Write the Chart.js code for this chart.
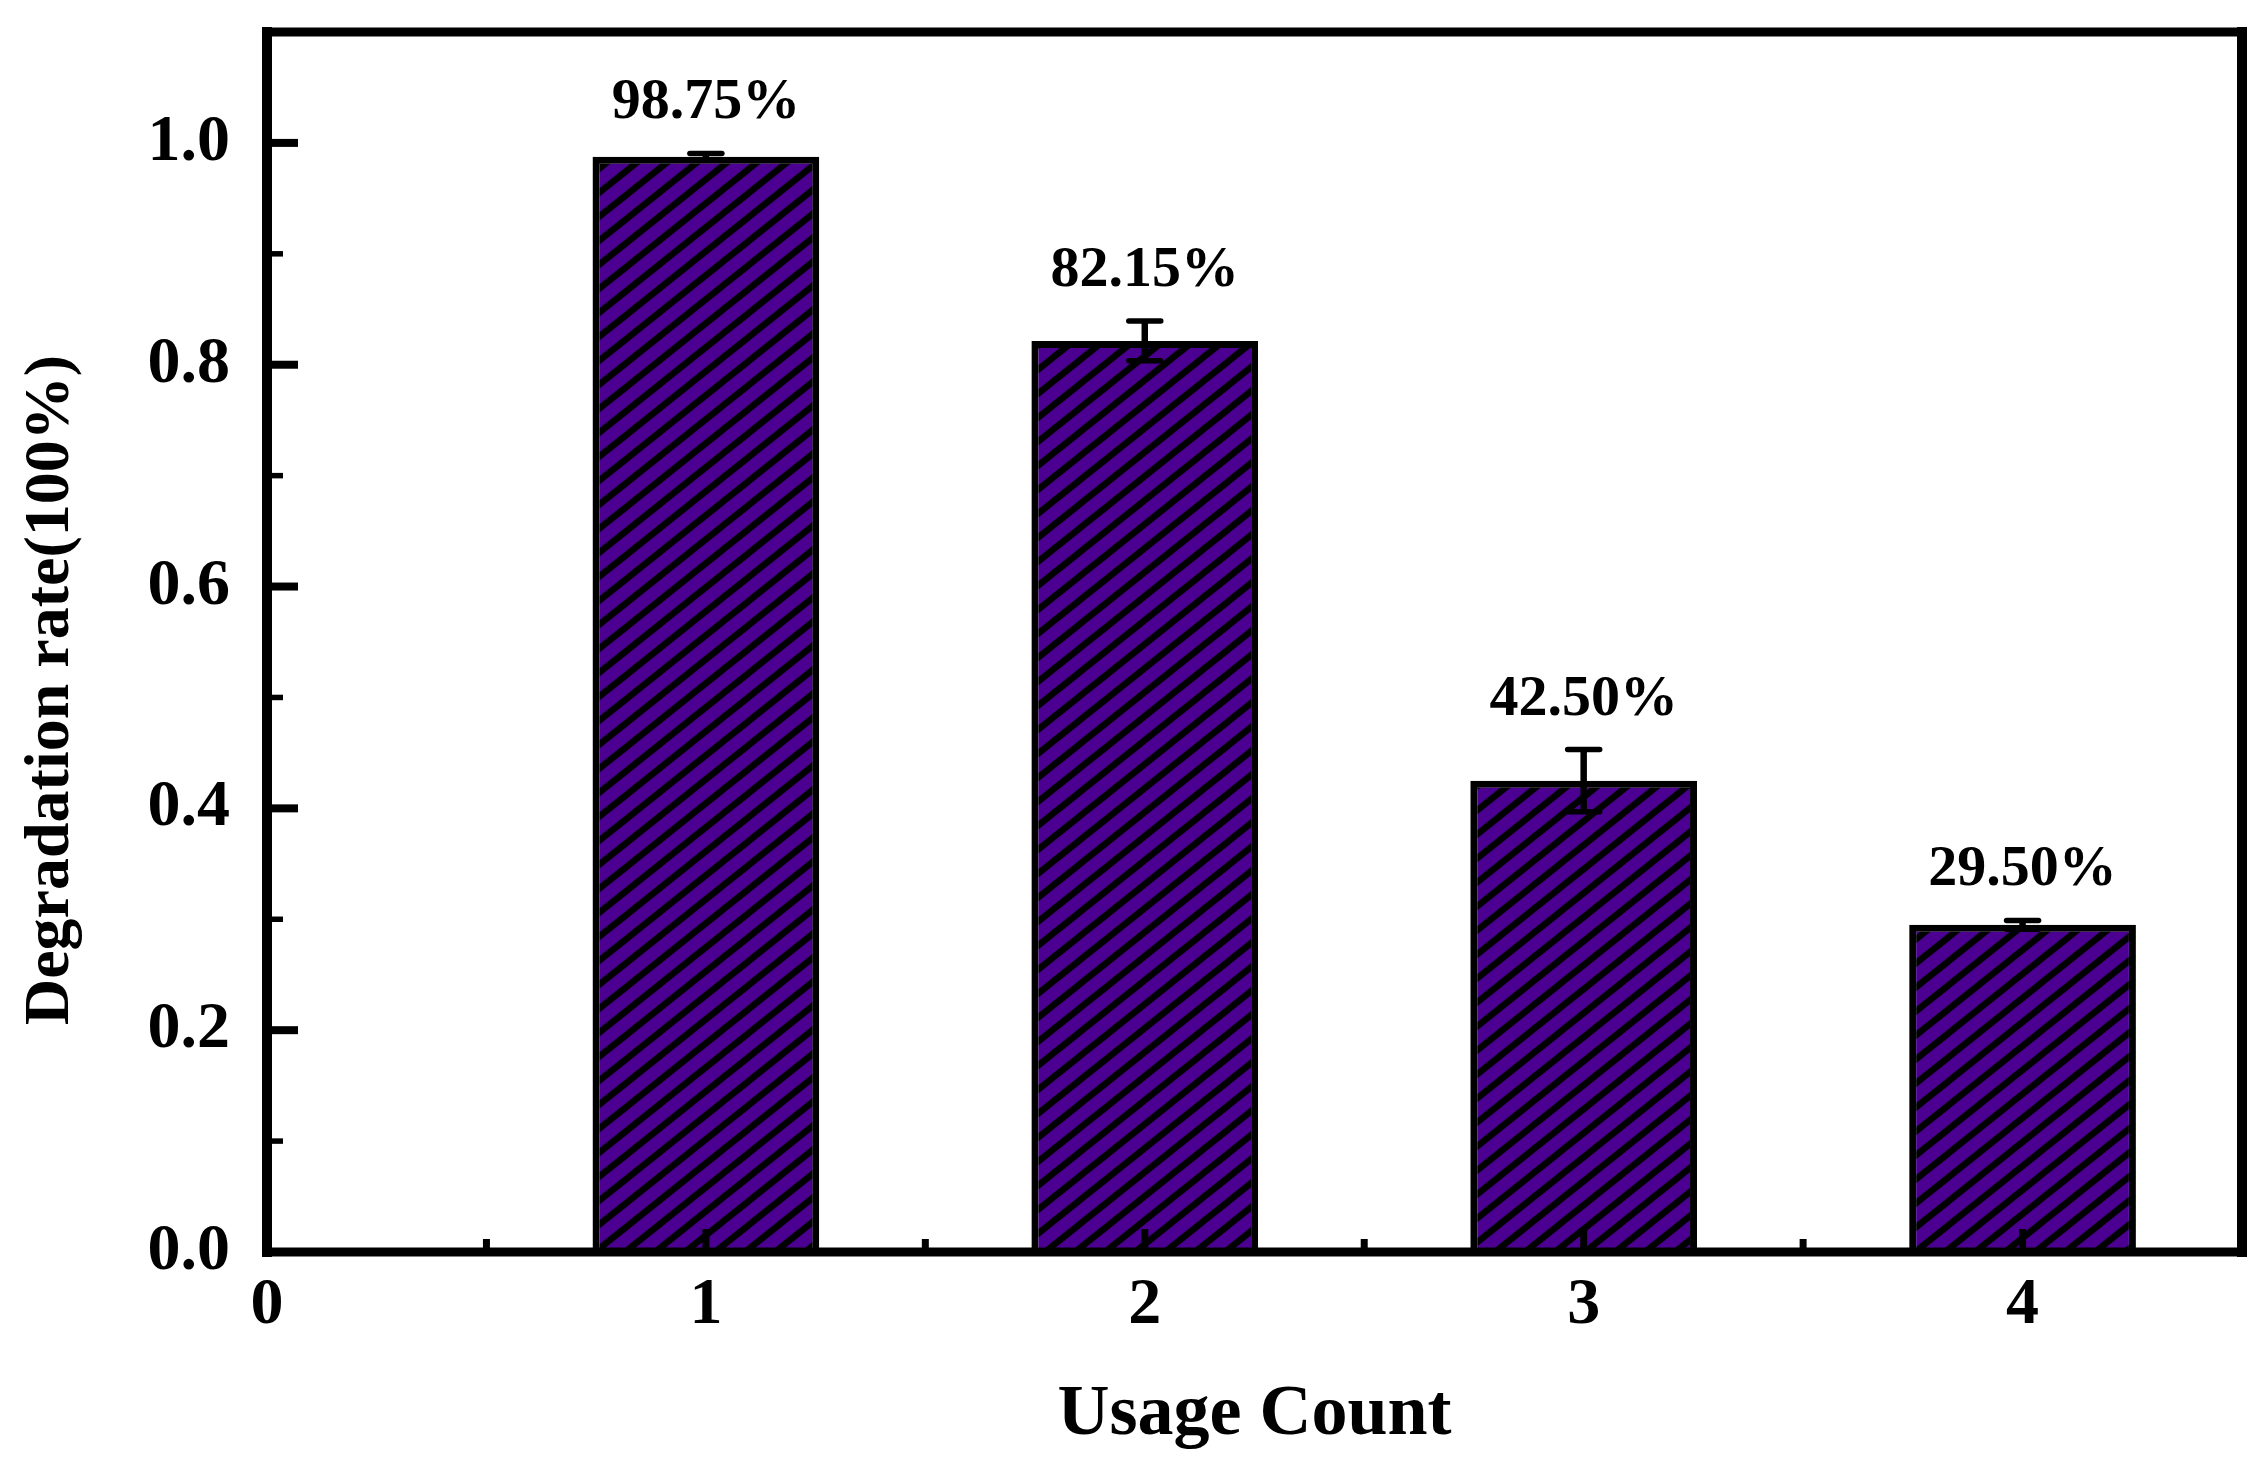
<!DOCTYPE html>
<html>
<head>
<meta charset="utf-8">
<script src="https://cdn.jsdelivr.net/npm/chart.js@4.4.1/dist/chart.umd.min.js"></script>
<style>
html,body{margin:0;padding:0;background:#ffffff;}
#wrap{width:2267px;height:1468px;}
</style>
</head>
<body>
<div id="wrap"><canvas id="c" width="2267" height="1468"></canvas></div>
<script>
// ---- data ----
const usageCounts = [1, 2, 3, 4];
const degradationRates = [0.9875, 0.8215, 0.4250, 0.2950];
const errorValues = [0.003, 0.018, 0.028, 0.004];
const xTickValues = [0, 1, 2, 3, 4];
const xMinorTickValues = [0.5, 1.5, 2.5, 3.5];
const yTickValues = [0, 0.2, 0.4, 0.6, 0.8, 1.0];
const yMinorTickValues = [0.1, 0.3, 0.5, 0.7, 0.9];
const xTitle = 'Usage Count';
const yTitle = 'Degradation rate(100%)';

const FONT = '"Liberation Serif", "Times New Roman", serif';
const PURPLE = '#4b0091';

function makeStripes() {
  const W = 30, H = 24;
  const c = document.createElement('canvas');
  c.width = W; c.height = H;
  const g = c.getContext('2d');
  g.fillStyle = PURPLE;
  g.fillRect(0, 0, W, H);
  g.strokeStyle = '#000';
  g.lineWidth = 6.5;
  for (let k = 0; k <= 2; k++) {
    g.beginPath();
    g.moveTo((k + 1) * W, -H);
    g.lineTo((k - 2) * W, 2 * H);
    g.stroke();
  }
  return g.createPattern(c, 'repeat');
}

const decorPlugin = {
  id: 'decor',
  afterDatasetsDraw(chart) {
    const {ctx, chartArea: a, scales: {x, y}} = chart;
    ctx.save();
    ctx.strokeStyle = '#000';
    ctx.fillStyle = '#000';

    // error bars
    usageCounts.forEach((c, i) => {
      const px = x.getPixelForValue(c);
      const top = y.getPixelForValue(degradationRates[i] + errorValues[i]);
      const bot = y.getPixelForValue(degradationRates[i] - errorValues[i]);
      ctx.lineWidth = 6.5; ctx.lineCap = 'butt';
      ctx.beginPath(); ctx.moveTo(px, top); ctx.lineTo(px, bot); ctx.stroke();
      ctx.lineWidth = 5.5; ctx.lineCap = 'round';
      [top, bot].forEach(yy => {
        ctx.beginPath(); ctx.moveTo(px - 16, yy); ctx.lineTo(px + 16, yy); ctx.stroke();
      });
    });

    // frame
    ctx.lineCap = 'square';
    ctx.lineWidth = 9;
    ctx.beginPath();
    ctx.moveTo(a.left, a.top); ctx.lineTo(a.right, a.top);
    ctx.moveTo(a.left, a.bottom); ctx.lineTo(a.right, a.bottom);
    ctx.stroke();
    ctx.lineWidth = 10;
    ctx.beginPath();
    ctx.moveTo(a.left, a.top); ctx.lineTo(a.left, a.bottom);
    ctx.moveTo(a.right, a.top); ctx.lineTo(a.right, a.bottom);
    ctx.stroke();

    // inward ticks
    ctx.lineCap = 'butt';
    ctx.lineWidth = 8;
    yTickValues.forEach(v => {
      const py = y.getPixelForValue(v);
      ctx.beginPath(); ctx.moveTo(a.left, py); ctx.lineTo(a.left + 31, py); ctx.stroke();
    });
    ctx.lineWidth = 5.5;
    yMinorTickValues.forEach(v => {
      const py = y.getPixelForValue(v);
      ctx.beginPath(); ctx.moveTo(a.left, py); ctx.lineTo(a.left + 16, py); ctx.stroke();
    });
    ctx.lineWidth = 7;
    xTickValues.forEach(v => {
      const px = x.getPixelForValue(v);
      ctx.beginPath(); ctx.moveTo(px, a.bottom); ctx.lineTo(px, a.bottom - 23); ctx.stroke();
    });
    xMinorTickValues.forEach(v => {
      const px = x.getPixelForValue(v);
      ctx.beginPath(); ctx.moveTo(px, a.bottom); ctx.lineTo(px, a.bottom - 13); ctx.stroke();
    });

    // value labels
    ctx.font = 'bold 58px ' + FONT;
    ctx.textAlign = 'center';
    ctx.textBaseline = 'middle';
    usageCounts.forEach((c, i) => {
      const px = x.getPixelForValue(c);
      const py = y.getPixelForValue(degradationRates[i] + errorValues[i]) - 50;
      ctx.fillText((degradationRates[i] * 100).toFixed(2) + '%', px, py);
    });
    ctx.restore();
  }
};

const stripes = makeStripes();

new Chart(document.getElementById('c'), {
  type: 'bar',
  data: {
    datasets: [{
      data: usageCounts.map((c, i) => ({x: c, y: degradationRates[i]})),
      backgroundColor: stripes,
      borderColor: '#000',
      borderWidth: 7,
      borderSkipped: 'start',
      barPercentage: 0.5166,
      categoryPercentage: 1.0
    }]
  },
  options: {
    responsive: false,
    animation: false,
    events: [],
    layout: {padding: {top: 32, right: 25, left: 0, bottom: 0}},
    plugins: {legend: {display: false}, tooltip: {enabled: false}},
    scales: {
      x: {
        type: 'linear',
        min: 0, max: 4.5,
        offset: false,
        grid: {display: false, drawTicks: false, offset: false},
        border: {display: false},
        afterBuildTicks: s => { s.ticks = xTickValues.map(v => ({value: v})); },
        afterFit: s => { s.height = 216; s.paddingLeft = 0; s.paddingRight = 0; s.paddingTop = 0; s.paddingBottom = 0; },
        ticks: {
          padding: 14,
          color: '#000',
          font: {family: FONT, size: 66, weight: 'bold'},
          callback: v => String(v)
        },
        title: {
          display: true,
          text: xTitle,
          color: '#000',
          font: {family: FONT, size: 72, weight: 'bold'},
          padding: {top: 0, bottom: 9}
        }
      },
      y: {
        type: 'linear',
        min: 0, max: 1.1,
        grid: {display: false, drawTicks: false},
        border: {display: false},
        afterBuildTicks: s => { s.ticks = yTickValues.map(v => ({value: v})); },
        afterFit: s => { s.width = 267; s.paddingTop = 0; s.paddingBottom = 0; s.paddingLeft = 0; s.paddingRight = 0; },
        ticks: {
          padding: 37,
          color: '#000',
          font: {family: FONT, size: 66, weight: 'bold'},
          callback: v => Number(v).toFixed(1)
        },
        title: {
          display: true,
          text: yTitle + '      ',
          color: '#000',
          font: {family: FONT, size: 64, weight: 'bold'},
          padding: {top: 13, bottom: 0}
        }
      }
    }
  },
  plugins: [decorPlugin]
});
</script>
</body>
</html>
